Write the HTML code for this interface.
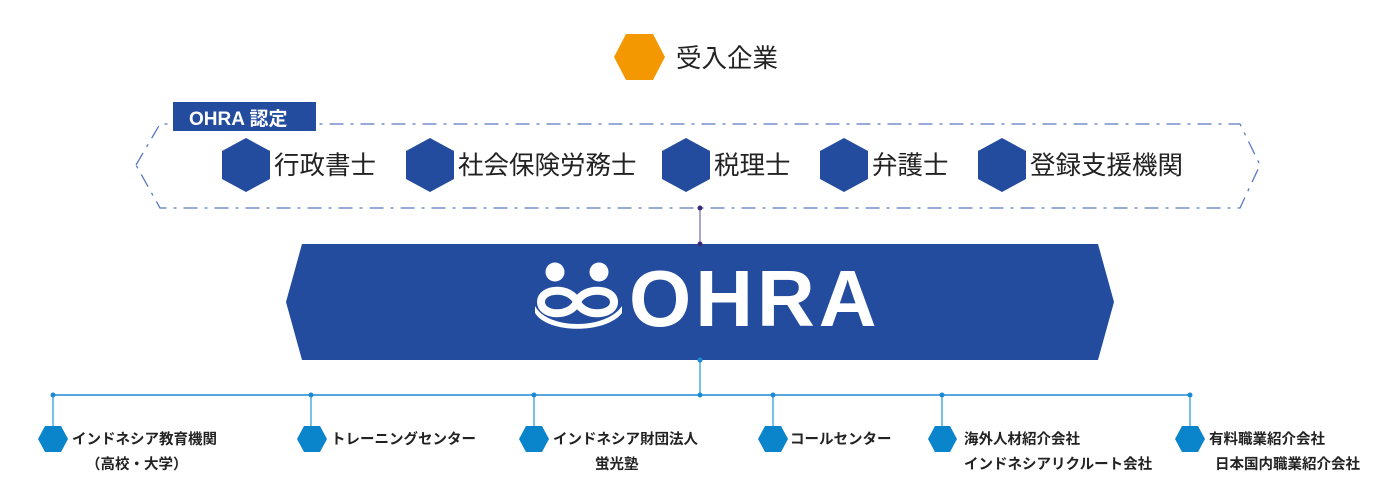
<!DOCTYPE html>
<html><head><meta charset="utf-8"><style>
html,body{margin:0;padding:0;background:#fff;}
svg{display:block;}
text{font-family:"Liberation Sans","Noto Sans CJK JP",sans-serif;}
</style></head><body>
<svg width="1400" height="500" viewBox="0 0 1400 500" xmlns="http://www.w3.org/2000/svg">
<polygon points="614,57 626,34 653,34 665,57 653,80 626,80" fill="#f39800"/>
<text x="676" y="67" font-size="25.5" fill="#222">受入企業</text>

<polygon points="136,165 160,124 1240,124 1260,165 1240,208 160,208" fill="none" stroke="#5b78c0" stroke-width="1.3" stroke-dasharray="14,7,3,7"/>
<rect x="173" y="102" width="143" height="29" fill="#234c9f"/>
<text x="189" y="125" font-size="19" font-weight="bold" fill="#fff">OHRA 認定</text>

<g fill="#234c9f">
<polygon points="246,138 270,151 270,179 246,192 222,179 222,151"/>
<polygon points="430,138 454,151 454,179 430,192 406,179 406,151"/>
<polygon points="686,138 710,151 710,179 686,192 662,179 662,151"/>
<polygon points="844,138 868,151 868,179 844,192 820,179 820,151"/>
<polygon points="1002,138 1026,151 1026,179 1002,192 978,179 978,151"/>
</g>
<g font-size="25.5" fill="#222">
<text x="274" y="174">行政書士</text>
<text x="458" y="174">社会保険労務士</text>
<text x="714" y="174">税理士</text>
<text x="872" y="174">弁護士</text>
<text x="1030" y="174">登録支援機関</text>
</g>

<line x1="700" y1="208" x2="700" y2="244" stroke="#5b4a9a" stroke-width="1"/>
<circle cx="700" cy="208" r="2.5" fill="#3b2a7a"/>

<polygon points="286,302 302,244 1098,244 1114,302 1098,360 302,360" fill="#234c9f"/>
<circle cx="700" cy="244" r="2.5" fill="#3b2a7a"/>
<g fill="#fff">
<circle cx="555" cy="272" r="9.5"/>
<circle cx="599" cy="272" r="9.5"/>
</g>
<g fill="none" stroke="#fff" stroke-width="8">
<path d="M541,302 C541,288 570,286 577,302 C584,318 614,316 614,302"/>
<path d="M541,302 C541,316 570,318 577,302 C584,286 614,288 614,302"/>
</g>
<path d="M535,306 C548,330 606,330 622,306 L622,313 C606,334 548,334 535,313 Z" fill="#fff"/>
<text x="629" y="326" font-size="80" font-weight="bold" fill="#fff" letter-spacing="4">OHRA</text>

<line x1="700" y1="360" x2="700" y2="395" stroke="#4aaee0" stroke-width="1.5"/>
<circle cx="700" cy="360" r="2.5" fill="#1a8ad4"/>
<line x1="53" y1="395" x2="1190" y2="395" stroke="#1a8ad4" stroke-width="1.5"/>
<g stroke="#4aaee0" stroke-width="1.5">
<line x1="53" y1="395" x2="53" y2="427"/>
<line x1="311" y1="395" x2="311" y2="427"/>
<line x1="534" y1="395" x2="534" y2="427"/>
<line x1="773" y1="395" x2="773" y2="427"/>
<line x1="942" y1="395" x2="942" y2="427"/>
<line x1="1190" y1="395" x2="1190" y2="427"/>
</g>
<g fill="#1a8ad4">
<circle cx="53" cy="395" r="2.5"/><circle cx="311" cy="395" r="2.5"/><circle cx="534" cy="395" r="2.5"/>
<circle cx="700" cy="395" r="2.5"/><circle cx="773" cy="395" r="2.5"/><circle cx="942" cy="395" r="2.5"/><circle cx="1190" cy="395" r="2.5"/>
</g>
<g fill="#0a85cc">
<polygon points="38,439 45,426 61,426 68,439 61,452 45,452"/>
<polygon points="297,439 304,426 320,426 327,439 320,452 304,452"/>
<polygon points="519,439 526,426 542,426 549,439 542,452 526,452"/>
<polygon points="758,439 765,426 781,426 788,439 781,452 765,452"/>
<polygon points="928,439 935,426 950,426 957,439 950,452 935,452"/>
<polygon points="1175,439 1182,426 1198,426 1205,439 1198,452 1182,452"/>
</g>
<g font-size="14.5" font-weight="bold" fill="#222">
<text x="72" y="444">インドネシア教育機関</text>
<text x="86" y="469">（高校・大学）</text>
<text x="331" y="444">トレーニングセンター</text>
<text x="553" y="444">インドネシア財団法人</text>
<text x="595" y="469">蛍光塾</text>
<text x="790" y="444">コールセンター</text>
<text x="964" y="444">海外人材紹介会社</text>
<text x="964" y="469">インドネシアリクルート会社</text>
<text x="1209" y="444">有料職業紹介会社</text>
<text x="1215" y="469">日本国内職業紹介会社</text>
</g>
</svg>
</body></html>
